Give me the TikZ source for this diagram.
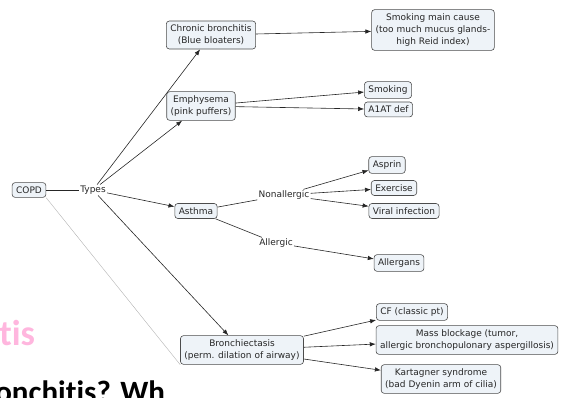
\documentclass[tikz,border=0pt]{standalone}
\usepackage{fontspec}
\setmainfont{DejaVu Sans}
\newfontfamily\slidefont[Ligatures=NoCommon]{Carlito}
\usetikzlibrary{positioning,arrows.meta}
\definecolor{boxfill}{RGB}{238,243,248}
\definecolor{slidepink}{RGB}{255,182,222}

\tikzset{
  concept/.style={draw=black!70, fill=boxfill, rounded corners=3pt, align=center,
    font=\fontsize{9}{12}\selectfont, inner xsep=4pt, inner ysep=4pt},
  phrase/.style={font=\fontsize{9}{12}\selectfont, inner sep=1pt},
}

\begin{document}
\begin{tikzpicture}[x=1pt,y=-1pt,>={Latex[length=6pt,width=4.5pt]},line width=.6pt,color=black!85]
   \useasboundingbox (0,0) rectangle (563,397);
   \clip (0,0) rectangle (563,397);
   % slide text behind the map
   \node[anchor=base west, inner sep=0, text=slidepink,
         font=\slidefont\bfseries\fontsize{36}{36}\selectfont] (tis) at (-1,345) {tis};
   \node[anchor=base west, inner sep=0, text=black,
         font=\slidefont\bfseries\fontsize{31}{31}\selectfont] (question) at (-5,402) {onchitis? Wh};

   \node[concept] (copd)    at (29,190)  {COPD};
   \node[phrase]  (types)   at (93,190)  {Types};
   \node[concept] (chronic) at (211,35)  {Chronic bronchitis\\(Blue bloaters)};
   \node[concept] (emph)    at (201,106) {Emphysema\\(pink puffers)};
   \node[concept] (asthma)  at (196,211) {Asthma};
   \node[concept] (bron)    at (242,350) {Bronchiectasis\\(perm. dilation of airway)};

   \node[concept] (mainc)   at (433,30)  {Smoking main cause\\(too much mucus glands-\\high Reid index)};
   \node[concept] (smoke)   at (388,90)  {Smoking};
   \node[concept] (aat)     [below=3pt of smoke.south west, anchor=north west] {A1AT def};

   \node[phrase]  (nonall)  at (284,195) {Nonallergic};
   \node[phrase]  (allerg)  at (276,243) {Allergic};
   \node[concept] (asprin)  at (387,165) {Asprin};
   \node[concept] (exer)    at (394,188) {Exercise};
   \node[concept] (viral)   at (404,211) {Viral infection};
   \node[concept] (allgn)   at (399,263) {Allergans};

   \node[concept] (cf)      at (412,312) {CF (classic pt)};
   \node[concept] (mass)    at (467,340) {Mass blockage (tumor,\\allergic bronchopulonary aspergillosis)};
   \node[concept] (kart)    at (441,379) {Kartagner syndrome\\(bad Dyenin arm of cilia)};

   \draw[black!30, line width=.4pt] (copd.south east) -- (bron.south west);

    \path[->]
    (copd)   edge [-] (types)
    (types)  edge (chronic)
             edge (emph)
             edge (asthma)
             edge (bron)
    (chronic) edge (mainc)
    (emph)   edge (smoke)
             edge (aat)
    (asthma) edge [-] (nonall)
             edge [-] (allerg)
    (nonall) edge (asprin)
             edge (exer)
             edge (viral)
    (allerg) edge (allgn)
    (bron)   edge (cf)
             edge (mass)
             edge (kart);
\end{tikzpicture}
\end{document}
